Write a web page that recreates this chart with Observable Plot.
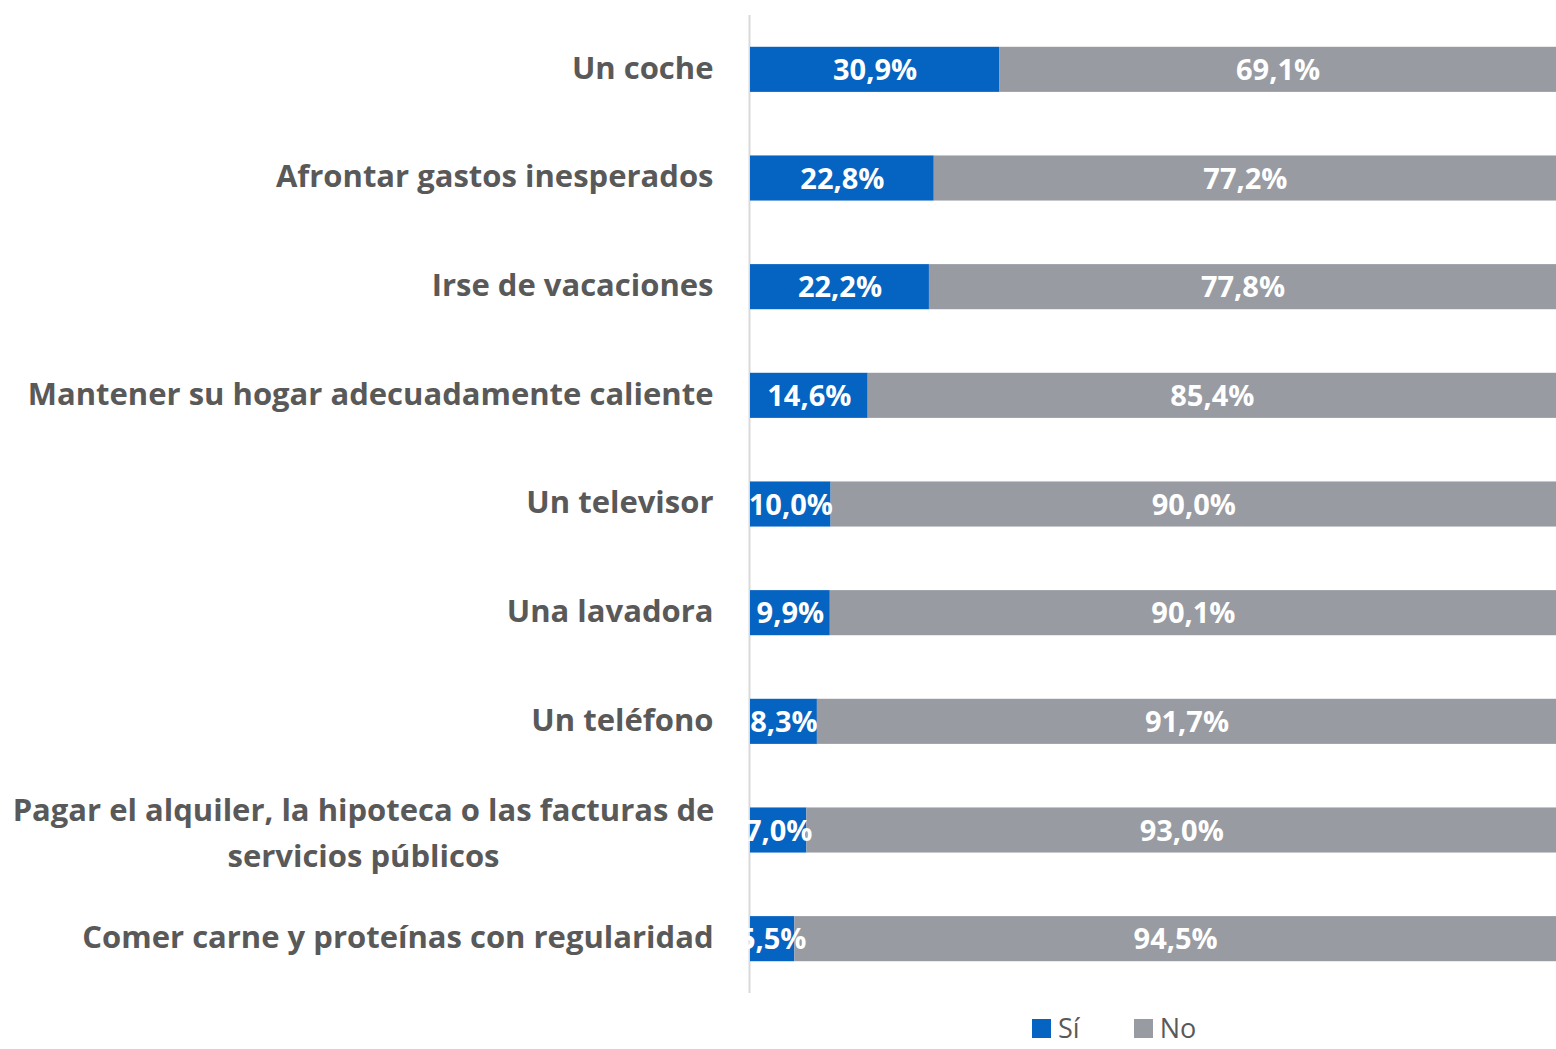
<!DOCTYPE html>
<html>
<head>
<meta charset="utf-8">
<script src="https://cdn.jsdelivr.net/npm/d3@7"></script>
<script src="https://cdn.jsdelivr.net/npm/@observablehq/plot@0.6"></script>
<style>
  html, body { margin: 0; padding: 0; background: #fff; }
  #chart svg { display: block; }
  .legend { margin-top: 13px; padding-left: 1032px; display: flex; font-family: "Open Sans", sans-serif; font-size: 27px; line-height: 30px; height: 30px; color: #595959; align-items: center; }
  .legend .item { display: flex; align-items: center; }
  .legend .sw { width: 19px; height: 19px; margin-right: 7px; display: inline-block; }
</style>
</head>
<body>
<div id="chart"></div>
<div class="legend" id="legend"></div>
<script>
const categories = [
  "Un coche",
  "Afrontar gastos inesperados",
  "Irse de vacaciones",
  "Mantener su hogar adecuadamente caliente",
  "Un televisor",
  "Una lavadora",
  "Un teléfono",
  "Pagar el alquiler, la hipoteca o las facturas de\nservicios públicos",
  "Comer carne y proteínas con regularidad"
];
const si = [30.9, 22.8, 22.2, 14.6, 10.0, 9.9, 8.3, 7.0, 5.5];
const no = [69.1, 77.2, 77.8, 85.4, 90.0, 90.1, 91.7, 93.0, 94.5];
const seriesNames = ["Sí", "No"];
const colors = ["#0563C1", "#989BA2"];

const fmt = v => v.toFixed(1).replace(".", ",") + "%";
const rows = categories.map((c, i) => ({cat: c, si: si[i], no: no[i]}));
const font = "'Open Sans', sans-serif";

const single = rows.filter(r => !r.cat.includes("\n"));
const multi = rows.filter(r => r.cat.includes("\n"));

const chart = Plot.plot({
  width: 1556,
  height: 1000,
  marginLeft: 750,
  marginRight: 0,
  marginTop: 15,
  marginBottom: 7,
  style: {fontFamily: font},
  x: {domain: [0, 100], axis: null},
  y: {domain: categories, axis: null, paddingInner: 0.585, paddingOuter: 0.2925, round: false},
  marks: [
    Plot.ruleX([0], {stroke: "#D9D9D9", strokeWidth: 2, dx: -1}),
    Plot.barX(rows, {y: "cat", x1: 0, x2: "si", fill: colors[0]}),
    Plot.barX(rows, {y: "cat", x1: "si", x2: d => d.si + d.no, fill: colors[1]}),
    Plot.text(rows, {y: "cat", x: d => d.si / 2, text: d => fmt(d.si), fill: "white", fontSize: 29, fontWeight: "bold", dy: 1}),
    Plot.text(rows, {y: "cat", x: d => d.si + d.no / 2, text: d => fmt(d.no), fill: "white", fontSize: 29, fontWeight: "bold", dy: 1}),
    Plot.text(single, {y: "cat", frameAnchor: "left", dx: -37, textAnchor: "end", text: "cat", fill: "#595959", fontSize: 31, fontWeight: "bold", dy: -1}),
    Plot.text(multi, {y: "cat", frameAnchor: "left", dx: -387, textAnchor: "middle", text: "cat", fill: "#595959", fontSize: 31, fontWeight: "bold", lineHeight: 1.48, dy: -1})
  ]
});
document.getElementById("chart").appendChild(chart);

const legend = document.getElementById("legend");
seriesNames.forEach((name, i) => {
  const item = document.createElement("span");
  item.className = "item";
  item.style.marginRight = "54px";
  const sw = document.createElement("span");
  sw.className = "sw";
  sw.style.background = colors[i];
  item.appendChild(sw);
  item.appendChild(document.createTextNode(name));
  legend.appendChild(item);
});
</script>
</body>
</html>
